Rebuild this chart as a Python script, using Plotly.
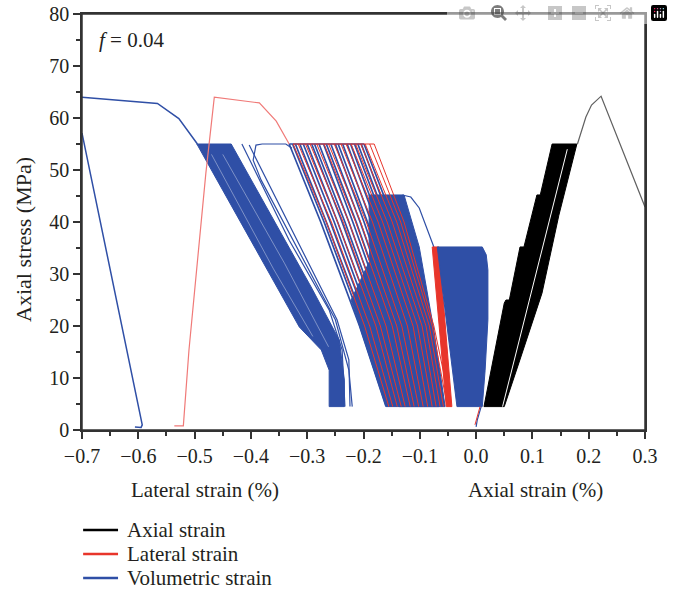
import plotly.graph_objects as go

BLUE = "#2f4fa6"
RED = "#e8352b"
PINK = "#f07a78"
BLACK = "#000000"
GRAY = "#606060"
FONT = "Liberation Serif"
TXT = "#231f20"
AXC = "#333333"

# ---------------- data (strain %, stress MPa) ----------------
# final monotonic / post-peak branches
vol_peak_x = [-0.700, -0.566, -0.528, -0.495]
vol_peak_y = [64.0, 62.8, 59.9, 55.0]
vol_post_x = [-0.700, -0.593, -0.595, -0.606]
vol_post_y = [57.1, 1.0, 0.5, 0.6]
lat_peak_x = [-0.536, -0.520, -0.510, -0.480, -0.465, -0.385, -0.355, -0.332]
lat_peak_y = [0.8, 0.8, 15.4, 49.4, 64.0, 62.9, 59.4, 55.0]
ax_peak_x = [0.180, 0.195, 0.205, 0.222, 0.300]
ax_peak_y = [55.0, 60.2, 62.5, 64.2, 42.9]

# initial loading near zero
vol_init_x = [0.000, 0.002, 0.009]
vol_init_y = [0.6, 1.9, 4.5]
lat_init_x = [-0.002, 0.007]
lat_init_y = [1.0, 4.5]

# axial strain cyclic envelope (stages 25/35/45/55 MPa)
ax_band_x = [0.014, 0.050, 0.053, 0.059, 0.078, 0.085, 0.108, 0.114, 0.135, 0.160,
             0.169, 0.179, 0.147, 0.117, 0.076, 0.050]
ax_band_y = [4.5, 24.4, 25.0, 25.0, 35.2, 35.2, 45.2, 45.2, 55.0, 55.0,
             55.0, 55.0, 41.3, 26.3, 12.9, 4.5]
ax_gap_x = [0.162, 0.106, 0.047]
ax_gap_y = [54.0, 30.1, 4.5]

# volumetric strain, 55 MPa stage, left group envelope
vol_s4a_x = [-0.496, -0.314, -0.275, -0.261, -0.261, -0.234, -0.234, -0.243, -0.293, -0.435]
vol_s4a_y = [55.0, 19.8, 15.4, 11.5, 4.5, 4.5, 9.6, 17.3, 27.5, 55.0]
vol_s4a_streak1_x = [-0.470, -0.360, -0.290]
vol_s4a_streak1_y = [53.0, 31.0, 18.0]
vol_s4a_streak2_x = [-0.450, -0.340, -0.262]
vol_s4a_streak2_y = [53.0, 32.0, 16.0]
# separate loops of the left group
vol_la_x = [-0.416, -0.332, -0.261, -0.238, -0.233]
vol_la_y = [55.0, 36.5, 23.1, 15.4, 4.5]
vol_lb_x = [-0.403, -0.314, -0.247, -0.226, -0.224]
vol_lb_y = [54.8, 35.6, 21.2, 13.5, 4.5]
vol_lc_x = [-0.220, -0.226, -0.250, -0.325, -0.382, -0.396, -0.391, -0.380, -0.338, -0.327]
vol_lc_y = [4.5, 11.5, 21.2, 36.5, 48.1, 51.9, 54.8, 55.0, 55.0, 54.2]

# volumetric strain, 55 MPa stage, middle group: dense lower part
vol_s4b_x = [-0.207, -0.160, -0.066, -0.092, -0.110, -0.187, -0.222]
vol_s4b_y = [20.0, 4.5, 4.5, 20.0, 27.0, 33.0, 25.0]
# unloading branches: strain at 55, 40, 20 and 4.5 MPa
mid_levels = [55.0, 40.0, 20.0, 4.5]
vol_m_55 = [-0.332, -0.326, -0.321, -0.313, -0.307, -0.300, -0.292, -0.287, -0.279, -0.271, -0.266,
            -0.258, -0.250, -0.245, -0.237, -0.229, -0.223, -0.216, -0.210, -0.204, -0.199]
vol_m_40 = [-0.276, -0.270, -0.266, -0.259, -0.252, -0.246, -0.238, -0.233, -0.226, -0.219, -0.213,
            -0.206, -0.199, -0.193, -0.186, -0.178, -0.172, -0.164, -0.158, -0.152, -0.146]
vol_m_20 = [-0.207, -0.201, -0.196, -0.190, -0.184, -0.178, -0.171, -0.166, -0.160, -0.153, -0.148,
            -0.141, -0.135, -0.130, -0.123, -0.117, -0.111, -0.105, -0.099, -0.095, -0.092]
vol_m_bot = [-0.160, -0.157, -0.153, -0.150, -0.146, -0.141, -0.137, -0.133, -0.128, -0.124, -0.119,
             -0.114, -0.109, -0.104, -0.099, -0.093, -0.088, -0.082, -0.076, -0.071, -0.066]

# lateral strain, 55 MPa stage: unloading branches
lat_m_55 = [-0.325, -0.316, -0.303, -0.295, -0.283, -0.270, -0.262, -0.252, -0.240, -0.231, -0.222,
            -0.214, -0.205, -0.197, -0.189, -0.181]
lat_m_40 = [-0.266, -0.257, -0.246, -0.236, -0.226, -0.214, -0.205, -0.195, -0.184, -0.174, -0.166,
            -0.158, -0.149, -0.141, -0.134, -0.128]
lat_m_20 = [-0.198, -0.189, -0.178, -0.170, -0.160, -0.149, -0.141, -0.132, -0.122, -0.112, -0.104,
            -0.096, -0.089, -0.083, -0.078, -0.075]
lat_m_bot = [-0.155, -0.148, -0.140, -0.133, -0.126, -0.117, -0.110, -0.102, -0.094, -0.086, -0.078,
             -0.071, -0.064, -0.058, -0.051, -0.045]

# volumetric strain, 45 MPa stage
vol_s3_x = [-0.190, -0.128, -0.101, -0.075, -0.055, -0.137, -0.187, -0.190]
vol_s3_y = [45.2, 45.2, 35.2, 19.2, 4.5, 4.5, 26.9, 36.5]
vol_t3_x = [-0.131, -0.116, -0.101, -0.087, -0.075]
vol_t3_y = [45.2, 44.8, 42.7, 38.8, 35.2]

# volumetric strain, 35 MPa stage
vol_s2_x = [-0.069, 0.011, 0.018, 0.021, 0.021, 0.016, 0.011, -0.034]
vol_s2_y = [35.2, 35.2, 33.7, 30.8, 21.2, 11.5, 4.5, 4.5]

# lateral strain, 35 MPa stage
lat_s2_x = [-0.078, -0.066, -0.043, -0.053]
lat_s2_y = [35.2, 35.2, 4.5, 4.5]

# legend
legend_labels = ["Axial strain", "Lateral strain", "Volumetric strain"]
legend_colors = [BLACK, RED, BLUE]

fig = go.Figure()


def poly(x, y, color):
    fig.add_trace(go.Scatter(x=x + [x[0]], y=y + [y[0]], mode="lines", fill="toself",
                             fillcolor=color, line=dict(color=color, width=1),
                             hoverinfo="skip", showlegend=False))


def line(x, y, color, width=1.2):
    fig.add_trace(go.Scatter(x=x, y=y, mode="lines", line=dict(color=color, width=width),
                             hoverinfo="skip", showlegend=False))


def branches(cols, levels, color, width, top_line=True):
    xs, ys = [], []
    for pts in zip(*cols):
        xs += list(pts) + [None]
        ys += levels + [None]
    line(xs, ys, color, width)
    if top_line:
        line([cols[0][0], cols[0][-1]], [levels[0], levels[0]], color, width)


poly(vol_s4a_x, vol_s4a_y, BLUE)
line(vol_s4a_streak1_x, vol_s4a_streak1_y, "rgba(255,255,255,0.55)", 0.7)
line(vol_s4a_streak2_x, vol_s4a_streak2_y, "rgba(255,255,255,0.55)", 0.7)
line(vol_la_x, vol_la_y, BLUE)
line(vol_lb_x, vol_lb_y, BLUE)
line(vol_lc_x, vol_lc_y, BLUE)

poly(vol_s3_x, vol_s3_y, BLUE)
poly(vol_s4b_x, vol_s4b_y, BLUE)
branches([vol_m_55, vol_m_40, vol_m_20, vol_m_bot], mid_levels, BLUE, 1.7)
branches([lat_m_55, lat_m_40, lat_m_20, lat_m_bot], mid_levels, RED, 1.0)

line(vol_t3_x, vol_t3_y, BLUE)
poly(lat_s2_x, lat_s2_y, RED)
poly(vol_s2_x, vol_s2_y, BLUE)
line(vol_init_x, vol_init_y, BLUE)
line(lat_init_x, lat_init_y, RED, 1.0)

poly(ax_band_x, ax_band_y, BLACK)
line(ax_gap_x, ax_gap_y, "white", 1.0)

line(vol_peak_x, vol_peak_y, BLUE, 1.5)
line(vol_post_x, vol_post_y, BLUE, 1.5)
line(lat_peak_x, lat_peak_y, PINK, 1.2)
line(ax_peak_x, ax_peak_y, GRAY, 1.2)

axis_common = dict(showline=True, linecolor=AXC, linewidth=1.5, mirror=True,
                   ticks="outside", ticklen=7, tickwidth=1.5, tickcolor=AXC,
                   showgrid=False, zeroline=False, automargin=False,
                   ticklabeloverflow="allow",
                   tickfont=dict(family=FONT, size=20, color=TXT))

fig.update_xaxes(range=[-0.7, 0.3], dtick=0.1, tick0=0, tickformat=".1f",
                 minor=dict(dtick=0.05, ticks="outside", ticklen=4, tickwidth=1.5,
                            tickcolor=AXC), **axis_common)
fig.update_yaxes(range=[0, 80], dtick=10, tick0=0,
                 minor=dict(dtick=5, ticks="outside", ticklen=4, tickwidth=1.5,
                            tickcolor=AXC), **axis_common)

# frame around the plot area
fig.add_shape(type="rect", xref="paper", yref="paper", x0=0, x1=1, y0=0, y1=1,
              line=dict(color=AXC, width=1.5), fillcolor="rgba(0,0,0,0)", layer="above")

txt = dict(family=FONT, size=21, color=TXT)
ann = dict(xref="paper", yref="paper", showarrow=False, yanchor="middle")
fig.add_annotation(x=0.2185, y=-0.144, text="Lateral strain (%)", xanchor="center", font=txt, **ann)
fig.add_annotation(x=0.805, y=-0.144, text="Axial strain (%)", xanchor="center", font=txt, **ann)
fig.add_annotation(x=-0.103, y=0.457, text="Axial stress (MPa)", xanchor="center", textangle=-90,
                   font=dict(family=FONT, size=22, color=TXT), **ann)
fig.add_annotation(x=0.026, y=0.9375, text="<i>f</i> = 0.04", xanchor="left", font=txt, **ann)

# manual legend below the plot
leg_y = [-0.2404, -0.2981, -0.3558]
for lab, col, yy in zip(legend_labels, legend_colors, leg_y):
    fig.add_shape(type="line", xref="paper", yref="paper", x0=0.002, x1=0.064, y0=yy, y1=yy,
                  line=dict(color=col, width=2.5))
    fig.add_annotation(x=0.077, y=yy, text=lab, xanchor="left", font=txt, **ann)

# plot area at x 82-645, y 14-430 of the 673x595 page
fig.update_layout(
    width=673, height=595,
    margin=dict(l=82, r=28, t=14, b=165, autoexpand=False),
    paper_bgcolor="white", plot_bgcolor="white",
    showlegend=False,
)

# remove the default 8 px page margin so the figure starts at the window corner
fig.write_html("out.html", post_script="document.body.style.margin='0px';")
